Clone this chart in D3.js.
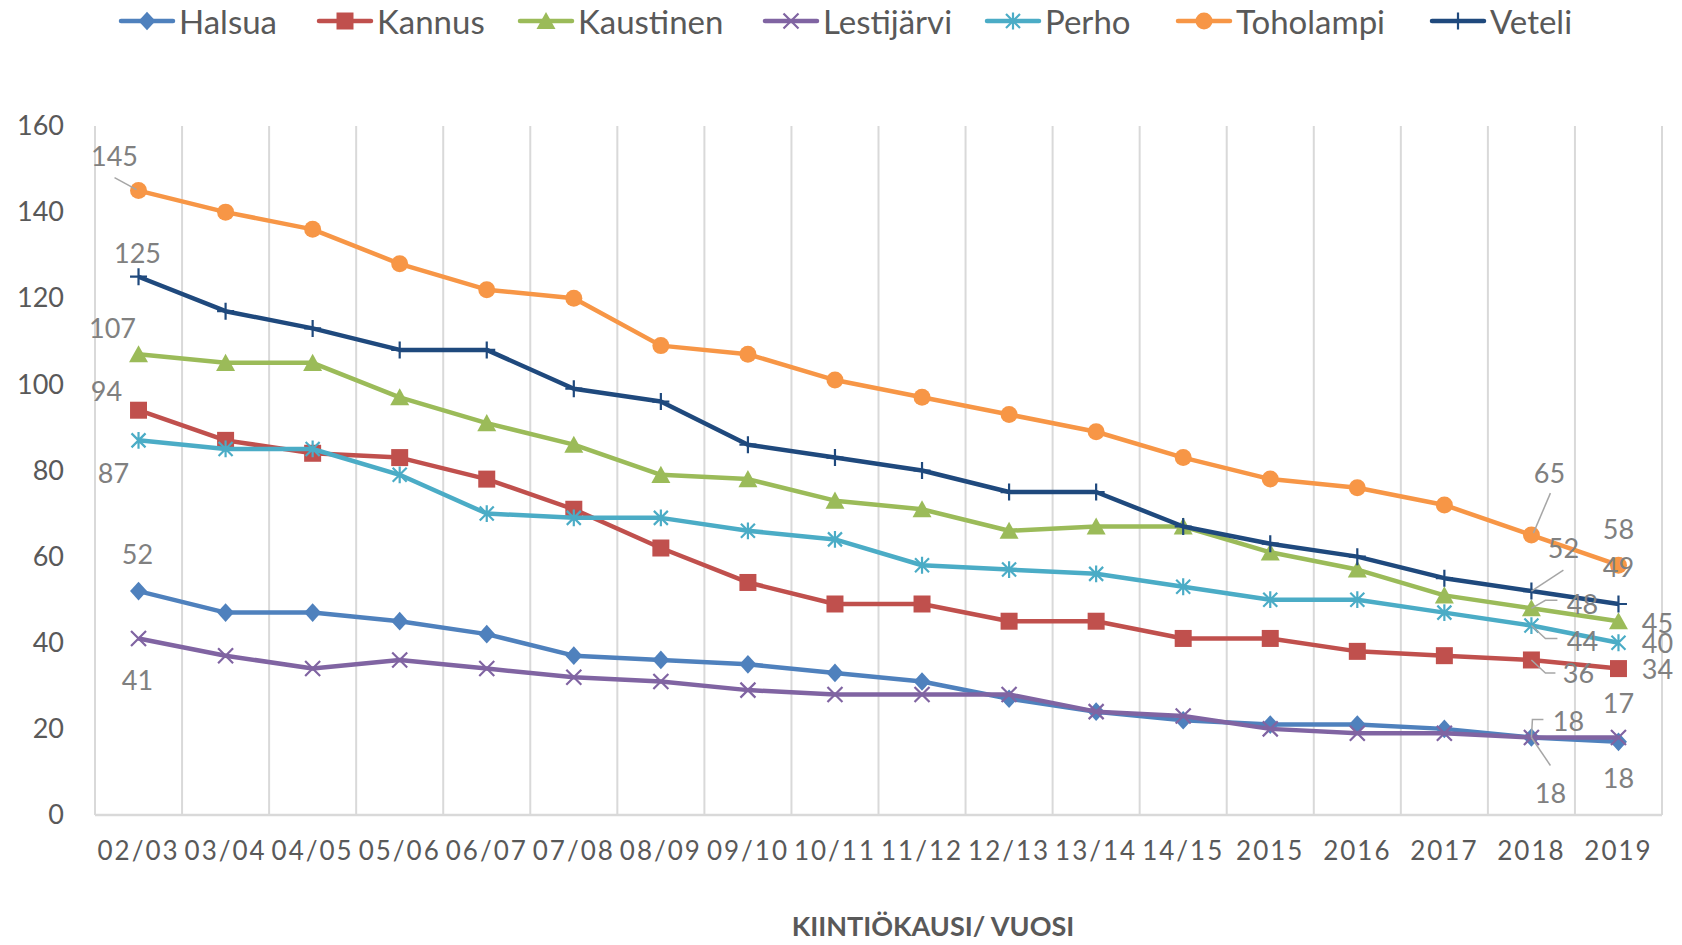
<!DOCTYPE html>
<html>
<head>
<meta charset="utf-8">
<script src="https://cdn.jsdelivr.net/npm/d3@7"></script>
<style>
  body { margin: 0; background: #fff; }
  text { font-family: Lato, "Open Sans", sans-serif; }
</style>
</head>
<body>
<div id="chart"></div>
<script>
"use strict";

// categories (x axis)
var seasons = ["02/03", "03/04", "04/05", "05/06", "06/07", "07/08", "08/09", "09/10", "10/11",
               "11/12", "12/13", "13/14", "14/15", "2015", "2016", "2017", "2018", "2019"];

// series values
var halsua     = [52, 47, 47, 45, 42, 37, 36, 35, 33, 31, 27, 24, 22, 21, 21, 20, 18, 17];
var kannus     = [94, 87, 84, 83, 78, 71, 62, 54, 49, 49, 45, 45, 41, 41, 38, 37, 36, 34];
var kaustinen  = [107, 105, 105, 97, 91, 86, 79, 78, 73, 71, 66, 67, 67, 61, 57, 51, 48, 45];
var lestijarvi = [41, 37, 34, 36, 34, 32, 31, 29, 28, 28, 28, 24, 23, 20, 19, 19, 18, 18];
var perho      = [87, 85, 85, 79, 70, 69, 69, 66, 64, 58, 57, 56, 53, 50, 50, 47, 44, 40];
var toholampi  = [145, 140, 136, 128, 122, 120, 109, 107, 101, 97, 93, 89, 83, 78, 76, 72, 65, 58];
var veteli     = [125, 117, 113, 108, 108, 99, 96, 86, 83, 80, 75, 75, 67, 63, 60, 55, 52, 49];

var seriesNames = ["Halsua", "Kannus", "Kaustinen", "Lestijärvi", "Perho", "Toholampi", "Veteli"];
var yTicks = [0, 20, 40, 60, 80, 100, 120, 140, 160];
var xTitle = "KIINTIÖKAUSI/ VUOSI";

// Excel-like marker shapes (size = half width in px)
var mkDiamond = { draw: function (c, s) { c.moveTo(0, -s * 1.1); c.lineTo(s, 0); c.lineTo(0, s * 1.1); c.lineTo(-s, 0); c.closePath(); } };
var mkSquare = { draw: function (c, s) { c.rect(-s, -s, 2 * s, 2 * s); } };
var mkTriangle = { draw: function (c, s) { c.moveTo(0, -s * 0.95); c.lineTo(s, s * 0.85); c.lineTo(-s, s * 0.85); c.closePath(); } };
var mkCircle = { draw: function (c, s) { c.moveTo(s, 0); c.arc(0, 0, s, 0, 2 * Math.PI); } };
var mkTimes = { draw: function (c, s) { c.moveTo(-s, -s); c.lineTo(s, s); c.moveTo(s, -s); c.lineTo(-s, s); } };
var mkStar = { draw: function (c, s) { c.moveTo(-s, -s); c.lineTo(s, s); c.moveTo(s, -s); c.lineTo(-s, s); c.moveTo(0, -s * 1.2); c.lineTo(0, s * 1.2); } };
var mkPlus = { draw: function (c, s) { c.moveTo(-s, 0); c.lineTo(s, 0); c.moveTo(0, -s); c.lineTo(0, s); } };

// look of each series
var styles = [
  { color: "#4f81bd", symbol: mkDiamond, size: 8.5, filled: true },
  { color: "#c0504d", symbol: mkSquare, size: 8.5, filled: true },
  { color: "#9bbb59", symbol: mkTriangle, size: 9.5, filled: true },
  { color: "#8064a2", symbol: mkTimes, size: 7.5, filled: false },
  { color: "#4bacc6", symbol: mkStar, size: 7, filled: false },
  { color: "#f79646", symbol: mkCircle, size: 8.5, filled: true },
  { color: "#1f497d", symbol: mkPlus, size: 8.5, filled: false }
];

var series = [halsua, kannus, kaustinen, lestijarvi, perho, toholampi, veteli].map(function (vals, i) {
  return { name: seriesNames[i], values: vals, style: styles[i] };
});

// data label placement: series index, point index, label offset, optional leader (offsets from point)
var labels = [
  { s: 5, i: 0, dx: -24, dy: -35, leader: [[-24, -13], [-2, -1]] },
  { s: 6, i: 0, dx: -1, dy: -24 },
  { s: 2, i: 0, dx: -26, dy: -27 },
  { s: 1, i: 0, dx: -32, dy: -20 },
  { s: 4, i: 0, dx: -25, dy: 32 },
  { s: 0, i: 0, dx: -1, dy: -38 },
  { s: 3, i: 0, dx: -1, dy: 41 },
  { s: 5, i: 16, dx: 18, dy: -63, leader: [[19, -42], [2, -2]] },
  { s: 5, i: 17, dx: 0, dy: -37 },
  { s: 6, i: 16, dx: 32, dy: -44, leader: [[32, -21], [0, 0]] },
  { s: 6, i: 17, dx: 0, dy: -37 },
  { s: 2, i: 16, dx: 51, dy: -5, leader: [[26, -8], [14, -8], [0, 0]] },
  { s: 2, i: 17, dx: 39, dy: 1 },
  { s: 4, i: 16, dx: 51, dy: 15, leader: [[0, 0], [14, 13], [26, 13]] },
  { s: 4, i: 17, dx: 39, dy: 0 },
  { s: 1, i: 16, dx: 47, dy: 13, leader: [[0, 0], [14, 13], [24, 13]] },
  { s: 1, i: 17, dx: 39, dy: 0 },
  { s: 0, i: 16, dx: 37, dy: -17, leader: [[12, -18], [1, -18], [0, 0]] },
  { s: 3, i: 16, dx: 19, dy: 55, leader: [[19, 28], [0, 0]] },
  { s: 0, i: 17, dx: 0, dy: -39 },
  { s: 3, i: 17, dx: 0, dy: 40 }
];

// legend layout: where each legend line starts
var legendX = [121, 319, 520, 765, 987, 1178, 1432];

var W = 1682, H = 945;
var plot = { left: 95, right: 1662, top: 126, bottom: 815 };

var svg = d3.select("#chart").append("svg")
  .attr("width", W).attr("height", H);

var x = d3.scaleBand().domain(seasons).range([plot.left, plot.right]).padding(0);
var y = d3.scaleLinear().domain([0, 160]).range([plot.bottom, plot.top]);
var cx = function (i) { return x(seasons[i]) + x.bandwidth() / 2; };

// vertical gridlines at category boundaries
var bounds = seasons.map(function (s) { return x(s); }).concat([plot.right]);
svg.append("g").selectAll("line")
  .data(bounds)
  .enter().append("line")
  .attr("x1", function (d) { return d; }).attr("x2", function (d) { return d; })
  .attr("y1", plot.top).attr("y2", plot.bottom)
  .attr("stroke", "#d9d9d9").attr("stroke-width", 2);

// x axis line
svg.append("line")
  .attr("x1", plot.left).attr("x2", plot.right)
  .attr("y1", plot.bottom).attr("y2", plot.bottom)
  .attr("stroke", "#d9d9d9").attr("stroke-width", 2.5);

// y axis
var yAxis = svg.append("g")
  .attr("transform", "translate(64,0)")
  .call(d3.axisLeft(y).tickValues(yTicks).tickSize(0).tickPadding(0));
yAxis.select(".domain").remove();
yAxis.selectAll("text")
  .style("font-family", "Lato, sans-serif")
  .attr("font-size", 27).attr("fill", "#595959");

// x axis labels
var xAxis = svg.append("g")
  .attr("transform", "translate(0," + plot.bottom + ")")
  .call(d3.axisBottom(x).tickSize(0).tickPadding(0));
xAxis.select(".domain").remove();
xAxis.selectAll("text")
  .style("font-family", "Lato, sans-serif")
  .attr("font-size", 26).attr("fill", "#595959")
  .attr("letter-spacing", 2)
  .attr("dy", null).attr("y", 45);

// axis title
svg.append("text")
  .attr("x", 933).attr("y", 936)
  .attr("text-anchor", "middle")
  .attr("font-size", 27).attr("font-weight", "bold")
  .attr("fill", "#595959")
  .text(xTitle);

// lines
var line = d3.line()
  .x(function (d, i) { return cx(i); })
  .y(function (d) { return y(d); });

var gSeries = svg.append("g").selectAll("g")
  .data(series)
  .enter().append("g");

gSeries.append("path")
  .attr("d", function (d) { return line(d.values); })
  .attr("fill", "none")
  .attr("stroke", function (d) { return d.style.color; })
  .attr("stroke-width", 4.5)
  .attr("stroke-linejoin", "round");

function drawMarker(sel, st) {
  sel.attr("d", d3.symbol().type(st.symbol).size(st.size))
    .attr("fill", st.filled ? st.color : "none")
    .attr("stroke", st.color)
    .attr("stroke-width", st.filled ? 0 : 2.2);
}

gSeries.each(function (s) {
  d3.select(this).selectAll("path.mk")
    .data(s.values)
    .enter().append("path")
    .attr("class", "mk")
    .attr("transform", function (d, i) { return "translate(" + cx(i) + "," + y(d) + ")"; })
    .call(drawMarker, s.style);
});

// data labels and leader lines
var gLab = svg.append("g");
labels.forEach(function (l) {
  var v = series[l.s].values[l.i];
  var px = cx(l.i), py = y(v);
  if (l.leader) {
    gLab.append("polyline")
      .attr("points", l.leader.map(function (p) { return (px + p[0]) + "," + (py + p[1]); }).join(" "))
      .attr("fill", "none").attr("stroke", "#a6a6a6").attr("stroke-width", 1.5);
  }
  gLab.append("text")
    .attr("x", px + l.dx).attr("y", py + l.dy)
    .attr("text-anchor", "middle").attr("dominant-baseline", "central")
    .attr("font-size", 27).attr("fill", "#808080")
    .text(v);
});

// legend
var legend = svg.append("g").attr("transform", "translate(0,21)");
series.forEach(function (s, i) {
  var lg = legend.append("g").attr("transform", "translate(" + legendX[i] + ",0)");
  lg.append("line").attr("x1", 0).attr("x2", 52).attr("y1", 0).attr("y2", 0)
    .attr("stroke", s.style.color).attr("stroke-width", 4.5).attr("stroke-linecap", "round");
  lg.append("path").attr("transform", "translate(26,0)").call(drawMarker, s.style);
  lg.append("text").attr("x", 58).attr("y", 0)
    .attr("dominant-baseline", "central")
    .attr("font-size", 33).attr("fill", "#595959")
    .text(s.name);
});
</script>
</body>
</html>
